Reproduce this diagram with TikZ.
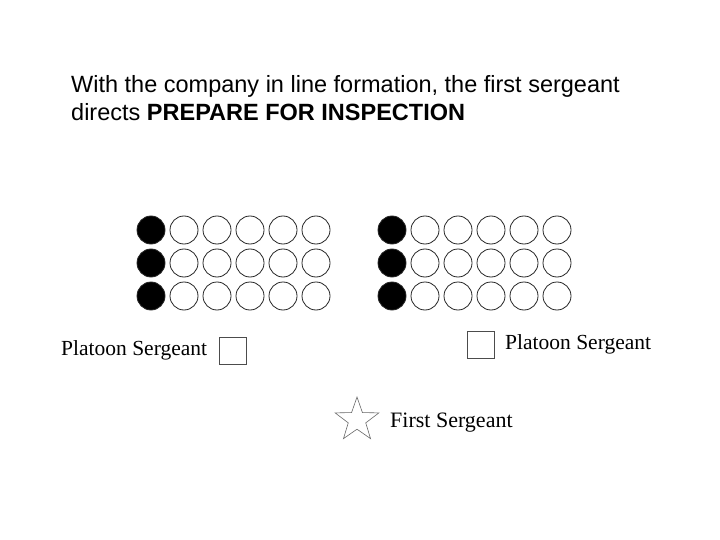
\documentclass[tikz,border=0pt]{standalone}
\usepackage{fontspec}
\setmainfont{Liberation Serif}
\newfontfamily\arialfont{Liberation Sans}
\usetikzlibrary{shapes.geometric}
\begin{document}
\begin{tikzpicture}[x=1pt,y=-1pt,
  soldier/.style={circle,draw=black!85,line width=0.8pt,minimum size=28pt,inner sep=0pt},
  guide/.style={soldier,fill=black},
  sgtbox/.style={draw=black!70,line width=0.8pt,minimum width=27pt,minimum height=27pt,inner sep=0pt},
  lbl/.style={anchor=base west,inner sep=0pt,font=\fontsize{21.5}{24}\selectfont},
  ttl/.style={anchor=base west,inner sep=0pt,align=left,font=\arialfont\fontsize{23.5}{28}\selectfont}]
\useasboundingbox (0,0) rectangle (720,540);
\node[ttl] (title) at (71,121) {With the company in line formation, the first sergeant\\directs \textbf{PREPARE FOR INSPECTION}};
% left platoon
\foreach \r/\y in {1/230,2/263,3/296}{
  \node[guide] (L\r1) at (151,\y) {};
  \foreach \c [evaluate=\c as \xx using 151+33*(\c-1)] in {2,...,6}{
    \node[soldier] (L\r\c) at (\xx,\y) {};
  }
}
% right platoon
\foreach \r/\y in {1/230,2/263,3/296}{
  \node[guide] (R\r1) at (392,\y) {};
  \foreach \c [evaluate=\c as \xx using 392+33*(\c-1)] in {2,...,6}{
    \node[soldier] (R\r\c) at (\xx,\y) {};
  }
}
\node[sgtbox] (lps) at (233,350.5) {};
\node[lbl] (lpst) at (61,355) {Platoon Sergeant};
\node[sgtbox] (rps) at (480.5,344.5) {};
\node[lbl] (rpst) at (505,349) {Platoon Sergeant};
\node[star,star points=5,star point ratio=2.5,draw=black!60,line width=0.6pt,minimum size=46pt,inner sep=0pt] (fs) at (357,420) {};
\node[lbl,font=\fontsize{22}{24}\selectfont] (fst) at (390,427) {First Sergeant};
\end{tikzpicture}
\end{document}
